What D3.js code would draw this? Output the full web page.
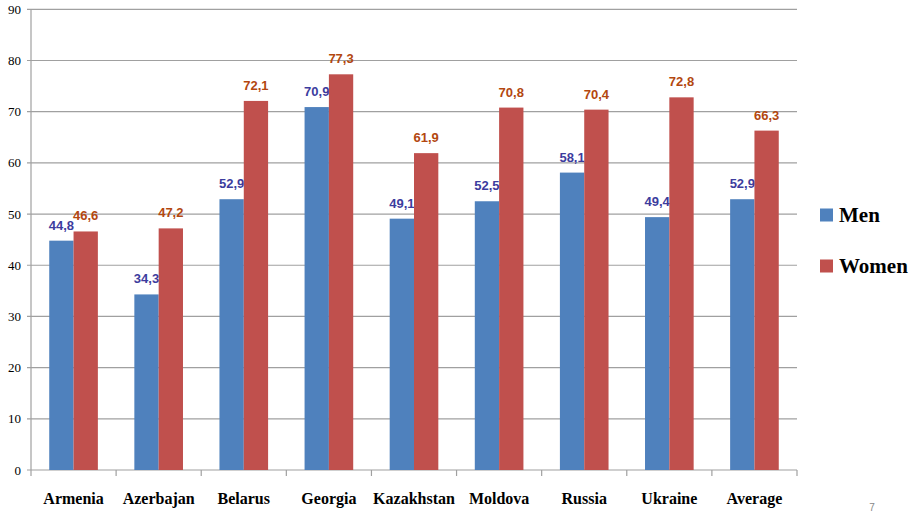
<!DOCTYPE html>
<html><head><meta charset="utf-8">
<script src="https://cdn.jsdelivr.net/npm/d3@7"></script>
<style>body{margin:0;background:#fff}svg{display:block}
.serif{font-family:"Liberation Serif","Times New Roman","DejaVu Serif",serif}
.sans{font-family:"Liberation Sans",Arial,sans-serif}</style>
</head><body>
<svg id="c" width="914" height="512"></svg>
<script>
const categories = ["Armenia","Azerbajan","Belarus","Georgia","Kazakhstan","Moldova","Russia","Ukraine","Average"];
const men = [44.8,34.3,52.9,70.9,49.1,52.5,58.1,49.4,52.9];
const women = [46.6,47.2,72.1,77.3,61.9,70.8,70.4,72.8,66.3];
const seriesNames = ["Men","Women"];
const yTicks = [0,10,20,30,40,50,60,70,80,90];

const colors = ["#4f81bd","#c0504d"];
const labelColors = ["#3c3c9e","#b3470f"];
const svg = d3.select("#c");
const pLeft = 31, pRight = 797, pTop = 9.3, pBottom = 470;

const x = d3.scaleBand().domain(categories).range([pLeft,pRight]).paddingInner(0).paddingOuter(0);
const y = d3.scaleLinear().domain([0,90]).range([pBottom,pTop]);
const bw = x.bandwidth()/3.5;
const sub = d3.scaleBand().domain([0,1]).range([bw*0.75, bw*2.75]);

// gridlines
svg.append("g").selectAll("line").data(yTicks).join("line")
  .attr("x1",pLeft-4).attr("x2",pRight).attr("y1",d=>y(d)).attr("y2",d=>y(d))
  .attr("stroke","#a0a0a0").attr("stroke-width",1.2);
// y axis line
svg.append("line").attr("x1",pLeft).attr("x2",pLeft).attr("y1",pTop).attr("y2",pBottom)
  .attr("stroke","#a0a0a0").attr("stroke-width",1.2);
// y labels
svg.append("g").selectAll("text").data(yTicks).join("text")
  .attr("class","serif")
  .attr("x",21).attr("y",d=>y(d)).attr("dy","0.35em").attr("text-anchor","end")
  .attr("font-size",13).attr("fill","#000")
  .text(d=>d);
// x tick marks
const bounds = categories.map(c=>x(c)).concat([pRight]);
svg.append("g").selectAll("line").data(bounds).join("line")
  .attr("x1",d=>d).attr("x2",d=>d).attr("y1",pBottom).attr("y2",pBottom+6)
  .attr("stroke","#a0a0a0").attr("stroke-width",1.2);

const series = [men, women];
series.forEach((vals,si)=>{
  const g = svg.append("g");
  g.selectAll("rect").data(vals).join("rect")
    .attr("x",(d,i)=>x(categories[i])+sub(si))
    .attr("width",sub.bandwidth())
    .attr("y",d=>y(d)).attr("height",d=>pBottom-y(d))
    .attr("fill",colors[si]);
  g.selectAll("text").data(vals).join("text")
    .attr("class","sans")
    .attr("x",(d,i)=>x(categories[i])+sub(si)+sub.bandwidth()/2)
    .attr("y",d=>y(d)-11)
    .attr("text-anchor","middle")
    .attr("font-weight","bold").attr("font-size",13)
    .attr("fill",labelColors[si])
    .text(d=>d.toFixed(1).replace(".",","));
});

// x labels
svg.append("g").selectAll("text").data(categories).join("text")
  .attr("class","serif")
  .attr("x",d=>x(d)+x.bandwidth()/2).attr("y",504).attr("text-anchor","middle")
  .attr("font-weight","bold").attr("font-size",16)
  .attr("fill","#000").text(d=>d);

// legend
const lg = svg.append("g");
seriesNames.forEach((n,i)=>{
  const cy = 215 + i*51;
  lg.append("rect").attr("x",820).attr("y",cy-6.5).attr("width",13).attr("height",13).attr("fill",colors[i]);
  lg.append("text").attr("class","serif").attr("x",839).attr("y",cy).attr("dy","0.35em")
    .attr("font-weight","bold").attr("font-size",21)
    .attr("fill","#000").text(n);
});

// page number
svg.append("text").attr("class","sans").attr("x",872).attr("y",511).attr("text-anchor","middle")
  .attr("font-size",10).attr("fill","#888").text("7");
</script>
</body></html>
